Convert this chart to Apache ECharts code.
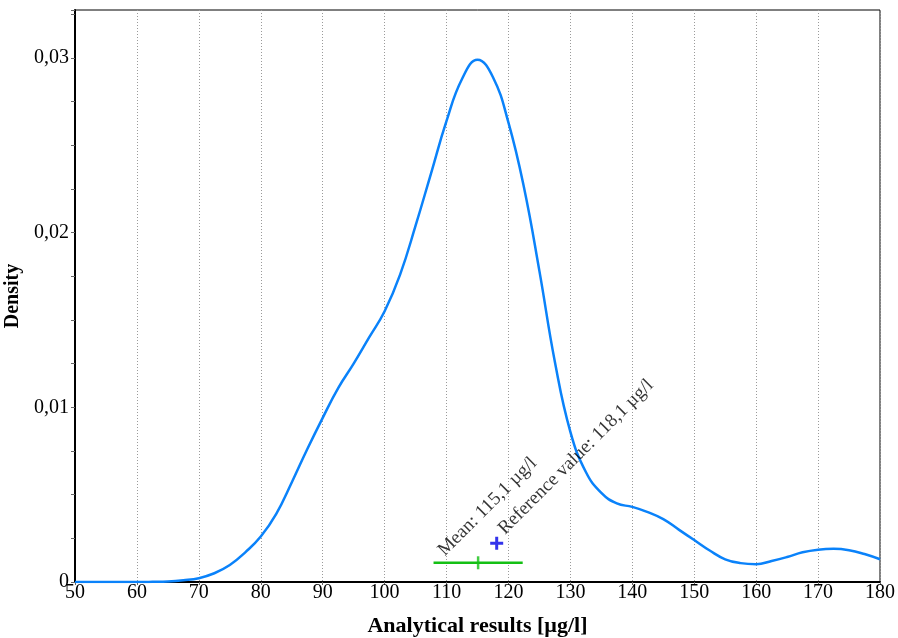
<!DOCTYPE html>
<html>
<head>
<meta charset="utf-8">
<script src="https://cdn.jsdelivr.net/npm/echarts@6/dist/echarts.min.js"></script>
<style>
html,body{margin:0;padding:0;background:#fff;}
#chart{width:898px;height:638px;}
</style>
</head>
<body>
<div id="chart"></div>
<script>
// ---- data ----
var xValues = [50, 55, 60, 62.5, 65, 67.5, 70, 72.5, 75, 77.5, 80, 82.5, 85, 87.5, 90, 92.5, 95, 97.5, 100, 102.5, 105, 107.5, 110, 112.5, 115, 117.5, 120, 122.5, 125, 127.5, 130, 132.5, 135, 137.5, 140, 142.5, 145, 147.5, 150, 152.5, 155, 157.5, 160, 162.5, 165, 167.5, 170, 172.5, 175, 177.5, 180];
var densityValues = [0, 0, 0, 0.00001, 0.00003, 0.0001, 0.00022, 0.0005, 0.00097, 0.0017, 0.0026, 0.0039, 0.0057, 0.0076, 0.0094, 0.0111, 0.0125, 0.0140, 0.0155, 0.0176, 0.0204, 0.0234, 0.0264, 0.0288, 0.0299, 0.0289, 0.0263, 0.0226, 0.0178, 0.0126, 0.0086, 0.0063, 0.0051, 0.0045, 0.0043, 0.0040, 0.0036, 0.0030, 0.0024, 0.0018, 0.0013, 0.00108, 0.00102, 0.0012, 0.00143, 0.0017, 0.00185, 0.0019, 0.00182, 0.0016, 0.0013];
var meanValue = 115.1;
var meanInterval = [107.9, 122.3];
var meanMarkerY = 0.0011;
var referenceValue = 118.1;
var referenceMarkerY = 0.00222;
var meanLabel = 'Mean: 115,1 µg/l';
var referenceLabel = 'Reference value: 118,1 µg/l';
var xAxisTitle = 'Analytical results [µg/l]';
var yAxisTitle = 'Density';
var xRange = [50, 180];
var yRange = [0, 0.03275];

// ---- chart ----
var FONT = '"Liberation Serif", "Times New Roman", serif';
var chart = echarts.init(document.getElementById('chart'), null, {renderer: 'canvas'});
var curve = xValues.map(function (x, i) { return [x, densityValues[i]]; });

chart.setOption({
  backgroundColor: '#ffffff',
  animation: false,
  grid: {left: 75, right: 18, top: 10, bottom: 56, show: true, borderColor: '#000', borderWidth: 1, containLabel: false, outerBoundsMode: 'none'},
  xAxis: {
    type: 'value', min: xRange[0], max: xRange[1], interval: 10,
    name: xAxisTitle, nameLocation: 'middle', nameGap: 33,
    nameTextStyle: {fontFamily: FONT, fontWeight: 'bold', fontSize: 22, color: '#000'},
    axisLine: {show: true, onZero: false, lineStyle: {color: '#000', width: 2}},
    axisTick: {show: true, length: 3, lineStyle: {color: '#666', width: 1}},
    axisLabel: {fontFamily: FONT, fontSize: 20, color: '#000', margin: 1},
    splitLine: {show: true, lineStyle: {color: '#9a9a9a', type: [1, 2], width: 1}}
  },
  yAxis: {
    type: 'value', min: yRange[0], max: yRange[1], interval: 0.01,
    name: yAxisTitle, nameLocation: 'middle', nameGap: 48, nameRotate: 90,
    nameTextStyle: {fontFamily: FONT, fontWeight: 'bold', fontSize: 20, color: '#000'},
    axisLine: {show: true, lineStyle: {color: '#000', width: 2}},
    axisTick: {show: true, length: 4, lineStyle: {color: '#666', width: 1}},
    minorTick: {show: true, splitNumber: 4, length: 4, lineStyle: {color: '#666', width: 1}},
    axisLabel: {
      fontFamily: FONT, fontSize: 20, color: '#000', margin: 6, showMaxLabel: false,
      formatter: function (v) {
        var r = Math.round(v * 100);
        if (Math.abs(v * 100 - r) > 1e-6) return '';
        return r === 0 ? '0' : (r / 100).toFixed(2).replace('.', ',');
      }
    },
    splitLine: {show: false}
  },
  series: [
    {
      type: 'line', data: curve, smooth: 0.45, symbol: 'none',
      lineStyle: {color: '#0a82fa', width: 2.5}, z: 3
    },
    {
      type: 'line', data: [[meanInterval[0], meanMarkerY], [meanInterval[1], meanMarkerY]],
      symbol: 'none', lineStyle: {color: '#14c014', width: 2.5}, z: 4
    },
    {
      type: 'scatter', data: [[meanValue, meanMarkerY]],
      symbol: 'rect', symbolSize: [2.5, 13], itemStyle: {color: '#14c014'}, z: 5,
      label: {
        show: true, formatter: meanLabel, position: [-29, 3.5], rotate: 45,
        align: 'left', verticalAlign: 'bottom',
        fontFamily: FONT, fontSize: 19, color: '#000'
      }
    },
    {
      type: 'scatter', data: [[referenceValue, referenceMarkerY]],
      symbol: 'path://M5,0h3v5h5v3h-5v5h-3v-5h-5v-3h5z', symbolSize: 13,
      itemStyle: {color: '#0000e6'}, z: 5,
      label: {
        show: true, formatter: referenceLabel, position: [18, 1.5], rotate: 45,
        align: 'left', verticalAlign: 'bottom',
        fontFamily: FONT, fontSize: 19, color: '#000'
      }
    }
  ]
});
</script>
</body>
</html>
